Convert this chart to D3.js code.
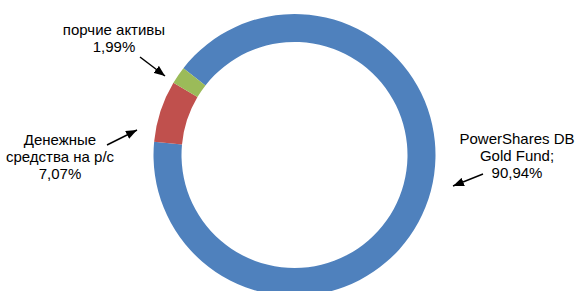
<!DOCTYPE html>
<html lang="ru">
    <head>
        <meta charset="utf-8">
        <script type="text/javascript" src="https://cdn.jsdelivr.net/npm/d3@7"></script>
        <title>Структура портфеля</title>
        <style>
          body { margin: 0; background: #fff; }
          svg { display: block; font-family: "Liberation Sans", Arial, sans-serif; }
        </style>
    </head>
    <body>
        <script type="text/javascript">
          // data
          var categories = ["PowerShares DB Gold Fund", "Денежные средства на р/с", "порчие активы"];
          var values = [90.94, 7.07, 1.99];
          var valueLabels = ["90,94%", "7,07%", "1,99%"];
          var labelLines = [
            ["PowerShares DB", "Gold Fund;", valueLabels[0]],
            ["Денежные", "средства на р/с", valueLabels[1]],
            ["порчие активы", valueLabels[2]]
          ];
          var colors = ["#4f81bd", "#c0504d", "#9bbb59"];

          // size of svg and ring
          var w = 577;
          var h = 291;
          var cx = 294.5;
          var cy = 155;
          var outerR = 141;
          var innerR = 113;
          var startAngle = 308 * Math.PI / 180;

          var svg = d3.select("body").append("svg")
                      .attr("width", w)
                      .attr("height", h);

          svg.append("rect")
             .attr("width", w)
             .attr("height", h)
             .attr("fill", "#fff");

          var data = categories.map(function(c, i) {
            return {name: c, value: values[i], color: colors[i], lines: labelLines[i]};
          });

          var pie = d3.pie()
            .sort(null)
            .value(function(d) { return d.value; })
            .startAngle(startAngle)
            .endAngle(startAngle + 2 * Math.PI);

          var arc = d3.arc()
            .innerRadius(innerR)
            .outerRadius(outerR);

          var ring = svg.append("g")
            .attr("transform", "translate(" + [cx, cy] + ")");

          ring.selectAll("path")
            .data(pie(data))
            .enter()
            .append("path")
            .attr("d", arc)
            .attr("fill", function(d) { return d.data.color; });

          // arrow head
          svg.append("defs").append("marker")
            .attr("id", "head")
            .attr("viewBox", "0 0 10 8")
            .attr("refX", 10)
            .attr("refY", 4)
            .attr("markerUnits", "userSpaceOnUse")
            .attr("markerWidth", 11)
            .attr("markerHeight", 9)
            .attr("orient", "auto")
            .append("path")
            .attr("d", "M0,0 L10,4 L0,8 Z")
            .attr("fill", "#000");

          // label layout: text centre x, first baseline, arrow tail and tip
          var layout = [
            {x: 517, y: 143.5, tail: [483, 174], tip: [453, 186]},
            {x: 60, y: 145, tail: [107, 145], tip: [137, 130]},
            {x: 114, y: 35, tail: [140, 57], tip: [165, 76]}
          ];
          var lineH = 17;

          var labels = svg.selectAll("g.label")
            .data(data)
            .enter()
            .append("g")
            .attr("class", "label");

          labels.append("text")
            .attr("text-anchor", "middle")
            .attr("font-size", "15px")
            .attr("fill", "#000")
            .each(function(d, i) {
              var t = d3.select(this);
              d.lines.forEach(function(line, j) {
                t.append("tspan")
                  .attr("x", layout[i].x)
                  .attr("y", layout[i].y + j * lineH)
                  .text(line);
              });
            });

          labels.append("line")
            .attr("x1", function(d, i) { return layout[i].tail[0]; })
            .attr("y1", function(d, i) { return layout[i].tail[1]; })
            .attr("x2", function(d, i) { return layout[i].tip[0]; })
            .attr("y2", function(d, i) { return layout[i].tip[1]; })
            .attr("stroke", "#000")
            .attr("stroke-width", 1.5)
            .attr("marker-end", "url(#head)");
        </script>
    </body>
</html>
